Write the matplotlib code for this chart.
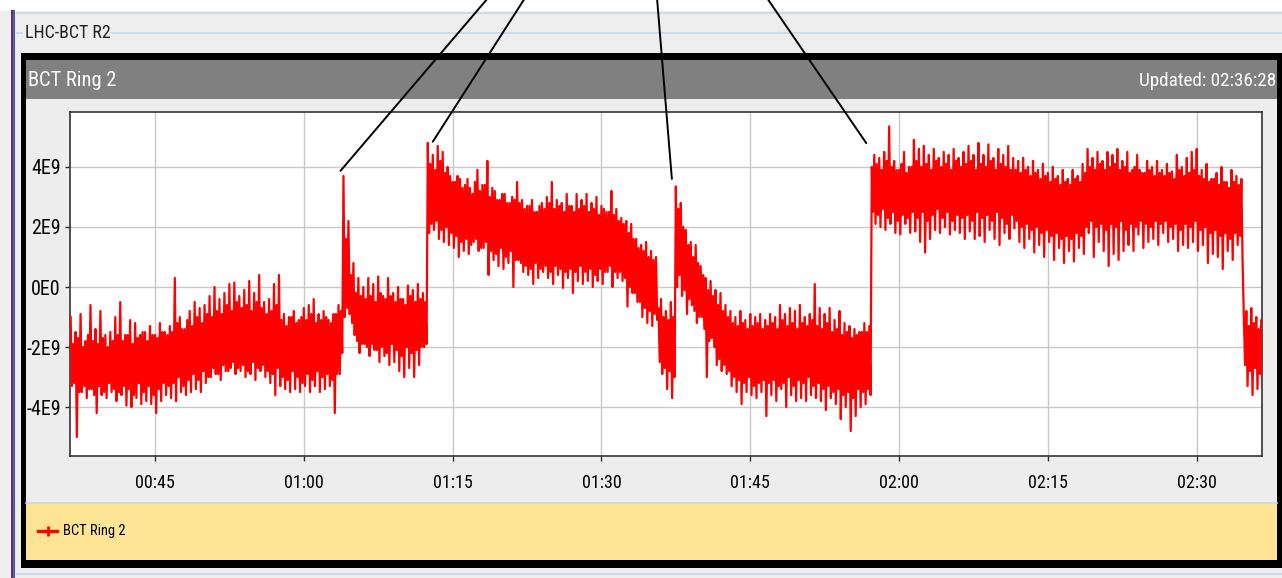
import numpy as np
import matplotlib
matplotlib.use("Agg")
import matplotlib.pyplot as plt
from matplotlib.patches import Rectangle
from matplotlib.lines import Line2D
from matplotlib.textpath import TextPath
from matplotlib.font_manager import FontProperties, fontManager

W, H, DPI = 1282, 578, 100

# ---------------- data (values in units of 1E9) ----------------
start_min = 36.5          # first sample time, minutes after 00:00
step_min = 0.5            # spacing of the peak readings (minutes)

# peak excursions (up / down) read every half minute, starting at 00:36:30
peak_hi_e9 = [
    -1.0, -1.5, -0.9, -1.8, -0.6, -1.4, -0.8, -1.6, -1.5, -1.0,
    -0.5, -1.6, -1.1, -1.2, -1.6, -1.5, -1.3, -1.6, -1.2, -1.5,
    -1.3, 0.3, -1.0, -1.4, -0.8, -0.5, -0.7, -0.6, -0.3, 0.0,
    -0.4, -0.2, 0.1, 0.15, -0.3, -0.1, 0.2, -0.2, 0.4, -0.5,
    -0.4, 0.1, 0.4, -0.9, -1.0, -0.8, -1.1, -0.7, -0.6, -0.4,
    -0.9, -0.8, -1.1, -0.9, -0.6, 3.7, 2.2, 0.8, 0.3, 0.0,
    0.3, 0.1, 0.35, -0.3, 0.3, -0.2, 0.0, -0.4, 0.05, -0.1,
    0.1, -0.2, 4.8, 4.4, 4.7, 4.5, 4.0, 3.5, 3.7, 3.3,
    3.6, 3.1, 3.9, 3.4, 4.2, 3.3, 2.9, 3.1, 2.8, 3.0,
    3.5, 2.9, 2.7, 2.9, 2.5, 2.8, 3.0, 3.5, 2.9, 2.8,
    3.1, 2.7, 3.1, 2.9, 3.1, 2.8, 3.0, 2.7, 2.5, 3.2,
    2.6, 2.3, 2.2, 2.1, 1.6, 1.4, 1.5, 1.2, 1.0, -0.4,
    -0.8, -0.5, 3.35, 2.8, 1.9, 1.5, 1.4, 0.7, 0.3, 0.2,
    -0.1, -0.2, -0.6, -0.8, -1.0, -0.8, -1.1, -0.9, -1.0, -0.9,
    -1.1, -0.9, -1.0, -0.6, -0.9, -0.7, -0.8, -0.6, -1.0, -0.9,
    0.1, -0.7, -0.9, -0.7, -1.1, -0.8, -1.2, -1.3, -1.4, -1.5,
    -1.2, -1.3, 4.4, 4.3, 4.5, 5.35, 4.2, 3.9, 4.5, 4.0,
    4.9, 4.6, 4.7, 4.4, 4.6, 4.3, 4.5, 4.4, 4.6, 4.3,
    4.5, 4.7, 4.4, 4.8, 4.4, 4.75, 4.3, 4.6, 4.4, 4.7,
    4.3, 4.2, 4.3, 4.0, 4.2, 3.9, 4.1, 3.8, 4.0, 3.7,
    3.9, 3.6, 3.9, 3.7, 4.1, 4.6, 4.3, 4.5, 4.2, 4.5,
    4.4, 4.6, 4.2, 4.5, 3.9, 4.4, 3.8, 4.2, 4.0, 4.2,
    3.9, 4.1, 3.85, 4.4, 4.0, 4.3, 4.5, 4.6, 3.9, 4.1,
    3.6, 3.8, 4.0, 3.5, 3.9, 3.7, 3.6, -0.8, -0.7, -1.0,
    -1.1,
]
peak_lo_e9 = [
    -3.3, -5.0, -3.5, -3.7, -3.4, -4.2, -3.6, -3.7, -3.5, -3.8,
    -3.6, -3.95, -4.0, -3.7, -3.9, -3.8, -3.9, -4.2, -3.8, -3.6,
    -3.7, -3.8, -3.5, -3.6, -3.5, -3.4, -3.5, -3.2, -3.0, -2.9,
    -3.1, -2.8, -2.7, -2.9, -2.8, -3.0, -2.9, -3.1, -2.8, -3.0,
    -3.2, -3.6, -3.3, -3.4, -3.5, -3.4, -3.5, -3.3, -3.5, -3.3,
    -3.5, -3.4, -3.3, -4.2, -2.9, -1.0, -0.9, -1.6, -2.2, -1.9,
    -2.3, -2.1, -2.5, -2.3, -2.6, -2.5, -2.8, -3.0, -2.7, -3.0,
    -2.6, -2.0, 1.8, 1.9, 1.6, 1.5, 1.4, 1.3, 1.0, 1.2,
    1.1, 1.5, 1.2, 1.3, 0.4, 0.9, 0.7, 0.6, 0.8, 0.0,
    0.9, 0.5, 0.4, 0.1, 0.3, 0.5, 0.3, 0.1, 0.4, -0.03,
    0.3, -0.2, 0.2, 0.1, 0.2, 0.0, 0.2, 0.1, 0.5, 0.0,
    0.3, 0.2, -0.65, -0.2, -0.5, -1.0, -1.2, -1.3, -1.1, -2.9,
    -3.4, -3.7, 0.0, -0.3, -0.9, -0.6, -1.2, -1.0, -3.0, -1.7,
    -2.6, -2.8, -2.9, -3.3, -3.5, -3.9, -3.5, -3.6, -3.7, -3.5,
    -4.3, -3.6, -3.8, -3.4, -4.0, -3.6, -3.8, -3.7, -3.8, -3.6,
    -3.7, -3.8, -4.1, -3.7, -3.9, -4.4, -4.0, -4.8, -4.3, -4.0,
    -3.9, -3.6, 2.1, 2.0, 1.9, 2.1, 1.8, 1.75, 2.1, 1.8,
    1.85, 1.5, 1.15, 1.6, 1.9, 1.8, 2.0, 1.75, 1.9, 1.8,
    1.6, 1.85, 1.6, 1.7, 1.5, 1.9, 1.6, 1.4, 1.8, 1.6,
    1.95, 1.5, 1.3, 1.6, 1.15, 1.4, 1.0, 1.5, 0.9, 1.3,
    0.8, 1.2, 0.85, 1.3, 1.1, 1.8, 1.0, 1.5, 1.2, 0.7,
    1.1, 0.9, 1.2, 1.4, 1.2, 1.75, 1.3, 1.5, 1.6, 1.4,
    1.8, 1.5, 1.6, 1.2, 1.4, 1.3, 1.5, 1.2, 1.4, 0.8,
    1.1, 1.0, 0.6, 1.2, 0.9, 1.4, 0.8, -3.3, -3.6, -3.4,
    -3.3,
]

# edges of the dense body of the band, read midway between the peak readings
body_hi_e9 = [
    -1.9, -1.7, -2.0, -1.6, -1.8, -1.9, -1.7, -2.0, -1.8, -1.6,
    -1.8, -1.6, -1.9, -1.7, -1.5, -1.8, -1.6, -1.7, -1.5, -1.6,
    -1.5, -1.2, -1.4, -1.1, -1.3, -1.0, -1.2, -0.9, -1.0, -0.8,
    -0.9, -0.6, -0.8, -0.5, -0.7, -0.6, -0.8, -0.5, -0.7, -0.9,
    -0.8, -0.6, -1.1, -1.3, -1.0, -1.2, -1.0, -1.1, -0.9, -1.2,
    -1.1, -1.0, -1.2, -0.9, -0.8, 1.6, 0.4, -0.2, -0.3, -0.4,
    -0.3, -0.5, -0.2, -0.4, -0.3, -0.5, -0.4, -0.6, -0.3, -0.5,
    -0.4, -0.5, 4.1, 3.9, 4.2, 3.8, 3.7, 3.5, 3.6, 3.4,
    3.3, 3.5, 3.2, 3.4, 3.0, 3.2, 2.9, 3.1, 2.8, 2.9,
    2.8, 2.6, 2.7, 2.5, 2.7, 2.6, 2.8, 2.6, 2.7, 2.5,
    2.7, 2.5, 2.6, 2.7, 2.5, 2.6, 2.4, 2.6, 2.5, 2.4,
    2.2, 2.1, 1.8, 1.6, 1.3, 1.2, 1.0, 0.9, -0.7, -1.0,
    -1.1, -1.0, 2.6, 2.0, 1.4, 1.0, 0.8, 0.4, -0.1, -0.3,
    -0.6, -0.8, -1.0, -1.2, -1.3, -1.2, -1.4, -1.3, -1.2, -1.4,
    -1.3, -1.2, -1.4, -1.1, -1.3, -1.2, -1.4, -1.2, -1.3, -1.1,
    -1.3, -1.4, -1.2, -1.5, -1.4, -1.6, -1.5, -1.7, -1.6, -1.5,
    -1.5, 4.0, 4.1, 3.9, 4.2, 4.0, 3.9, 4.1, 3.8, 4.0,
    4.2, 4.0, 4.1, 3.9, 4.2, 4.0, 4.1, 3.9, 4.2, 4.0,
    4.1, 4.2, 3.9, 4.1, 4.0, 4.2, 3.9, 4.1, 4.0, 3.9,
    3.9, 3.8, 3.9, 3.7, 3.8, 3.6, 3.7, 3.5, 3.6, 3.4,
    3.5, 3.4, 3.6, 3.5, 3.8, 4.0, 3.9, 4.1, 3.9, 4.0,
    4.1, 3.9, 4.0, 3.8, 4.0, 3.9, 3.8, 3.9, 3.7, 3.8,
    3.7, 3.8, 3.6, 3.9, 3.7, 3.8, 3.9, 3.7, 3.6, 3.5,
    3.6, 3.4, 3.5, 3.3, 3.5, 3.4, -1.0, -1.3, -1.2, -1.4,
]
body_lo_e9 = [
    -3.2, -3.5, -3.3, -3.4, -3.6, -3.3, -3.5, -3.2, -3.4, -3.5,
    -3.3, -3.4, -3.6, -3.2, -3.5, -3.3, -3.6, -3.4, -3.2, -3.3,
    -3.2, -3.0, -3.3, -3.1, -2.9, -3.1, -2.8, -3.0, -2.7, -2.9,
    -2.6, -2.8, -2.5, -2.7, -2.6, -2.8, -2.5, -2.7, -2.6, -2.8,
    -2.9, -2.7, -3.0, -3.1, -2.8, -3.0, -3.2, -2.9, -3.1, -2.8,
    -3.0, -2.9, -3.1, -2.9, -2.2, -0.7, -1.2, -1.8, -1.9, -2.0,
    -1.9, -2.1, -2.0, -2.2, -1.9, -2.1, -2.3, -2.0, -2.2, -2.1,
    -2.0, -1.9, 2.1, 2.2, 1.9, 2.0, 1.8, 1.7, 1.5, 1.6,
    1.4, 1.6, 1.3, 1.5, 1.2, 1.1, 1.3, 1.0, 1.2, 0.9,
    0.8, 0.7, 0.6, 0.8, 0.6, 0.7, 0.5, 0.7, 0.6, 0.5,
    0.6, 0.5, 0.7, 0.5, 0.6, 0.4, 0.6, 0.5, 0.7, 0.5,
    0.5, 0.3, 0.0, -0.2, -0.5, -0.7, -0.8, -0.9, -2.5, -2.7,
    -2.8, -3.0, 0.4, -0.1, -0.4, -0.8, -1.0, -1.4, -1.8, -2.0,
    -2.4, -2.6, -2.8, -3.0, -3.1, -3.2, -3.0, -3.3, -3.2, -3.1,
    -3.2, -3.1, -3.3, -3.2, -3.0, -3.3, -3.1, -3.2, -3.0, -3.3,
    -3.2, -3.4, -3.3, -3.5, -3.4, -3.6, -3.5, -3.7, -3.4, -3.5,
    -3.4, 2.5, 2.4, 2.6, 2.3, 2.5, 2.2, 2.4, 2.3, 2.5,
    2.3, 2.5, 2.2, 2.4, 2.6, 2.3, 2.5, 2.2, 2.4, 2.3,
    2.4, 2.2, 2.5, 2.3, 2.4, 2.2, 2.5, 2.3, 2.1, 2.4,
    2.2, 2.0, 2.1, 1.9, 2.0, 1.8, 1.9, 1.7, 1.8, 1.6,
    1.7, 1.6, 1.8, 1.7, 2.0, 2.2, 2.0, 2.1, 1.9, 2.1,
    2.0, 2.2, 1.9, 2.1, 2.0, 2.2, 2.1, 2.0, 2.2, 2.1,
    2.2, 2.0, 2.1, 1.9, 2.1, 2.0, 2.2, 1.9, 2.0, 1.8,
    1.9, 1.7, 1.8, 1.6, 1.8, 1.7, -2.6, -2.8, -2.7, -2.9,
]

xtick_min = [45, 60, 75, 90, 105, 120, 135, 150]
xtick_labels = ["00:45", "01:00", "01:15", "01:30", "01:45", "02:00", "02:15", "02:30"]
ytick_e9 = [-4, -2, 0, 2, 4]
ytick_labels = ["-4E9", "-2E9", "0E0", "2E9", "4E9"]

series_name = "BCT Ring 2"
panel_title = "BCT Ring 2"
group_title = "LHC-BCT R2"
updated_text = "Updated: 02:36:28"

# callout lines: target point (time, value) and where they leave the top edge (px)
callout_min = [63.7, 73.0, 97.1, 116.7]
callout_e9 = [3.87, 4.84, 3.6, 4.79]
callout_top_px = [488, 525, 657, 767]

# ---------------- fonts: prefer a narrow face, size text to the reference widths ----------------
def pick_font():
    tries = [("Liberation Sans Narrow", "normal"), ("Roboto Condensed", "normal"),
             ("Open Sans Condensed", "normal"), ("Noto Sans", "condensed"),
             ("DejaVu Sans", "condensed")]
    for fam, st in tries:
        fp = FontProperties(family=fam, stretch=st)
        try:
            path = fontManager.findfont(fp, fallback_to_default=False)
        except Exception:
            continue
        if "Narrow" in path or "Condensed" in path:
            return fp
    return FontProperties(family="Liberation Sans")

FP = pick_font()

def fit_size(s, target_px):
    w = TextPath((0, 0), s, size=10, prop=FP).get_extents().width
    return target_px / (w / 10.0 * DPI / 72.0)

RED = "#FF0000"

fig = plt.figure(figsize=(W / DPI, H / DPI), dpi=DPI, facecolor="#EEEEEE")

# background / window chrome in pixel coordinates
bg = fig.add_axes([0, 0, 1, 1], zorder=0)
bg.set_xlim(0, W)
bg.set_ylim(H, 0)
bg.axis("off")

def rect(x, y, w, h, color):
    bg.add_patch(Rectangle((x, y), w, h, facecolor=color, edgecolor="none"))

def txt(x, y, s, width_px, color, ha="left"):
    bg.text(x, y, s, fontproperties=FP, fontsize=fit_size(s, width_px), color=color,
            ha=ha, va="center")

rect(0, 0, W, 11, "white")
for yy, x0 in [(12.5, 16), (573.5, 16)]:
    bg.plot([x0, W], [yy, yy], color="#C4D8EA", lw=1.2, solid_capstyle="butt")
bg.plot([16, 23], [32.5, 32.5], color="#C4D8EA", lw=1.2, solid_capstyle="butt")
bg.plot([111, W], [32.5, 32.5], color="#C4D8EA", lw=1.2, solid_capstyle="butt")
rect(11, 10, 2, H - 10, "#7A1F8A")
rect(13, 10, 1, H - 10, "#2E8B57")
rect(14, 10, 1, H - 10, "#3A4FC0")
txt(25, 33, group_title, 84, "#222222")

# black frame, inner panel, title bar and legend strip
rect(21, 53, W - 21, 515, "black")
rect(26, 60, 1251, 500, "#EDEDED")
rect(26, 60, 1251, 39, "#808080")
txt(28, 81, panel_title, 86, "white")
txt(1276, 81, updated_text, 135, "white", ha="right")
rect(26, 502, 1251, 58, "#FFE496")
bg.plot([26, 1277], [502.5, 502.5], color="#C9D9E6", lw=1.2)
bg.add_line(Line2D([38, 57], [531, 531], color=RED, lw=2.4))
bg.add_line(Line2D([47.5], [531], color=RED, marker="+", ms=7, mew=2))
txt(63, 531, series_name, 61, "black")

# ---------------- plot area ----------------
ax = fig.add_axes([70 / W, 1 - 456 / H, 1192 / W, 344 / H], zorder=2)
ax.set_facecolor("white")

# merge the readings into one time-ordered sample sequence (quarter-minute grid)
n = len(peak_hi_e9) + len(body_hi_e9)
hi = np.empty(n)
lo = np.empty(n)
hi[0::2] = peak_hi_e9
hi[1::2] = body_hi_e9
lo[0::2] = peak_lo_e9
lo[1::2] = body_lo_e9
t = start_min + (step_min / 2) * np.arange(n)
xs = np.empty(2 * n)
ys = np.empty(2 * n)
xs[0::2] = t
xs[1::2] = t + step_min / 4
ys[0::2] = hi
ys[1::2] = lo
ax.plot(xs, ys, color=RED, lw=1.6, solid_joinstyle="round", zorder=3)

ax.set_xlim(36.435, 156.58)
ax.set_ylim(-5.63, 5.83)
ax.set_xticks(xtick_min)
ax.set_xticklabels(xtick_labels, fontproperties=FP)
ax.set_yticks(ytick_e9)
ax.set_yticklabels(ytick_labels, fontproperties=FP)
for lab in ax.get_xticklabels():
    lab.set_fontsize(fit_size("00:45", 38))
for lab in ax.get_yticklabels():
    lab.set_fontsize(fit_size("-4E9", 33))
ax.tick_params(axis="both", direction="out", length=3.5, width=1, color="#333333")
ax.tick_params(axis="x", pad=9.5)
ax.tick_params(axis="y", pad=3)
ax.grid(True, color="#C8C8C8", lw=1.0)
ax.set_axisbelow(True)
for sp in ax.spines.values():
    sp.set_color("#333333")
    sp.set_linewidth(1.2)

for tm, v, px in zip(callout_min, callout_e9, callout_top_px):
    ax.annotate("", xy=(tm, v), xycoords="data", xytext=(px, H + 2),
                textcoords="figure pixels", annotation_clip=False,
                arrowprops=dict(arrowstyle="-", color="black", lw=1.4,
                                shrinkA=0, shrinkB=0))

fig.savefig("out.png", dpi=DPI, facecolor=fig.get_facecolor())
